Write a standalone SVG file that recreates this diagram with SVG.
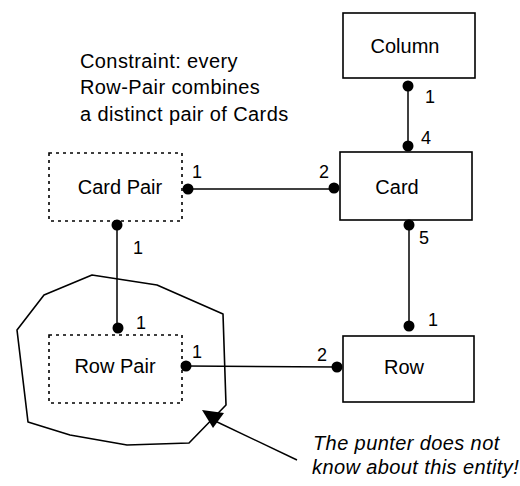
<svg xmlns="http://www.w3.org/2000/svg" width="520" height="486" viewBox="0 0 520 486">
  <style>
    .box { fill: #fff; stroke: #000; stroke-width: 1.6; }
    .dashed { stroke-dasharray: 3 4; }
    .wire { stroke: #000; stroke-width: 1.5; fill: none; }
    .dot { fill: #000; }
    .label { font-family: "Liberation Sans", Arial, sans-serif; font-size: 20px; fill: #000; text-anchor: middle; }
    .num { font-family: "Liberation Sans", Arial, sans-serif; font-size: 18px; fill: #000; }
    .note { font-family: "Liberation Sans", Arial, sans-serif; font-size: 20px; fill: #000; letter-spacing: 0.4px; }
  </style>

  <rect width="520" height="486" fill="#fff"/>

  <!-- constraint note -->
  <g id="constraint">
    <text class="note" x="80" y="68">Constraint: every</text>
    <text class="note" x="80" y="94">Row-Pair combines</text>
    <text class="note" x="80" y="121">a distinct pair of Cards</text>
  </g>

  <!-- hidden-entity outline around Row Pair -->
  <g id="hidden-region">
    <polygon points="92,275 157,285 223,314 226,405 189,443 127,445 70,435 28,422 17,330 44,295" fill="none" stroke="#000" stroke-width="1.6" stroke-linejoin="round"/>
  </g>

  <!-- nodes -->
  <g id="column">
    <rect class="box" x="343" y="13" width="132" height="65"/>
    <text class="label" x="405" y="53">Column</text>
  </g>
  <g id="card">
    <rect class="box" x="340" y="152" width="132" height="68"/>
    <text class="label" x="397" y="194">Card</text>
  </g>
  <g id="card-pair">
    <rect class="box dashed" x="49" y="153" width="133" height="68"/>
    <text class="label" x="120" y="194">Card Pair</text>
  </g>
  <g id="row-pair">
    <rect class="box dashed" x="49" y="335" width="133" height="68"/>
    <text class="label" x="115" y="373">Row Pair</text>
  </g>
  <g id="row">
    <rect class="box" x="343" y="336" width="131" height="66"/>
    <text class="label" x="404" y="374">Row</text>
  </g>

  <!-- connectors -->
  <g id="connectors">
    <line class="wire" x1="408" y1="86" x2="408" y2="146"/>
    <circle class="dot" cx="408" cy="86" r="5.5"/>
    <circle class="dot" cx="408" cy="146" r="5.5"/>
    <text class="num" x="425" y="103">1</text>
    <text class="num" x="421" y="144">4</text>

    <line class="wire" x1="187" y1="189" x2="334" y2="189"/>
    <circle class="dot" cx="188" cy="189" r="5.5"/>
    <circle class="dot" cx="334" cy="188" r="5.5"/>
    <text class="num" x="192" y="178">1</text>
    <text class="num" x="319" y="178">2</text>

    <line class="wire" x1="409" y1="225" x2="409" y2="326"/>
    <circle class="dot" cx="409" cy="225" r="5.5"/>
    <circle class="dot" cx="409" cy="326" r="5.5"/>
    <text class="num" x="419" y="244">5</text>
    <text class="num" x="428" y="326">1</text>

    <line class="wire" x1="117" y1="225" x2="117" y2="328"/>
    <circle class="dot" cx="117" cy="225" r="5.5"/>
    <circle class="dot" cx="118" cy="328" r="5.5"/>
    <text class="num" x="133" y="254">1</text>
    <text class="num" x="136" y="329">1</text>

    <line class="wire" x1="186" y1="366" x2="337" y2="367"/>
    <circle class="dot" cx="186" cy="366" r="5.5"/>
    <circle class="dot" cx="337" cy="367" r="5.5"/>
    <text class="num" x="192" y="358">1</text>
    <text class="num" x="317" y="361">2</text>

    <!-- pointer from the remark -->
    <line class="wire" x1="213" y1="420" x2="297" y2="460"/>
    <polygon points="202,410 224,413 213,428" fill="#000"/>
  </g>

  <!-- remark -->
  <g id="remark">
    <text class="note" x="313" y="450" font-style="italic">The punter does not</text>
    <text class="note" x="312" y="474" font-style="italic">know about this entity!</text>
  </g>
</svg>
